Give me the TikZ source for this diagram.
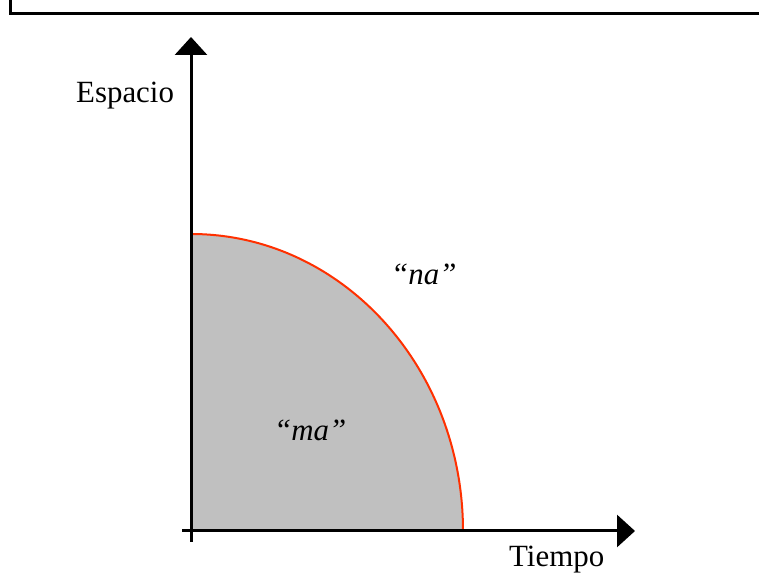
\documentclass[tikz,border=0pt]{standalone}
\usepackage{fontspec}
\setmainfont{Liberation Serif}
\usetikzlibrary{arrows.meta}
\definecolor{regiongray}{RGB}{192,192,192}
\definecolor{curvered}{RGB}{255,48,0}

\begin{document}
\begin{tikzpicture}[x=1bp,y=1bp,line cap=butt,
  axis/.style={line width=3bp,-{Triangle[width=32bp,length=18bp]}},
  lbl/.style={inner sep=0pt,anchor=base west,font=\fontsize{31}{37}\selectfont}]
  \useasboundingbox (0,0) rectangle (759,584);
  \coordinate (O) at (191,53);
  \coordinate (S) at (191,350);
  \coordinate (T) at (463,53);
  % frame, only left and top edges inside the picture
  \draw[line width=3bp] (10.5,590) -- (10.5,570) -- (770,570);
  % region under the curve
  \fill[regiongray] (O) -- (S) arc[start angle=90,end angle=0,x radius=272,y radius=297] -- cycle;
  \draw[curvered,line width=2bp] (S) arc[start angle=90,end angle=0,x radius=272,y radius=297];
  % axes
  \draw[axis] (191,42) -- (191,547);
  \draw[axis] (182,53) -- (635,53);
  \node[lbl] (espacio) at (76,481) {Espacio};
  \node[lbl] (tiempo) at (509,17) {Tiempo};
  \node[lbl] (na) at (391,299) {\itshape “na”};
  \node[lbl] (ma) at (274,143) {\itshape “ma”};
\end{tikzpicture}
\end{document}
